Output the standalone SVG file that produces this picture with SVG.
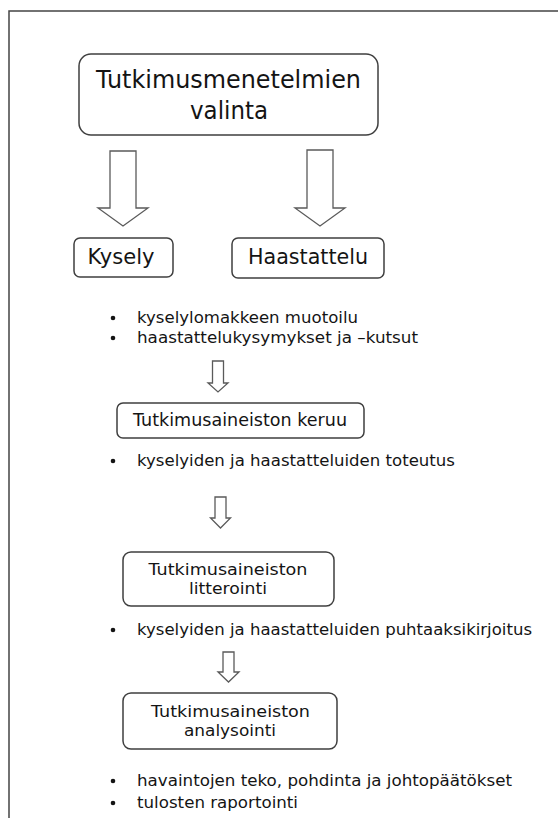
<svg xmlns="http://www.w3.org/2000/svg" width="558" height="818" viewBox="0 0 558 818">
<style>
.box{fill:#fff;stroke:#3f3f3f;stroke-width:1.5}
.arr{fill:#fff;stroke:#5a5a5a;stroke-width:1.3;stroke-linejoin:miter}
.t{font-family:"DejaVu Sans","Liberation Sans",sans-serif;fill:#141414}
.big{font-size:24px}
.mid{font-size:21px}
.box17{font-size:17px}
.box16{font-size:16px}
.bul{font-size:16.5px}
.dot{fill:#141414}
</style>
<rect x="0" y="0" width="558" height="818" fill="#fff"/>
<path d="M558,11 H9 V818" fill="none" stroke="#444" stroke-width="1.5"/>

<g id="connectors">
<path class="arr" d="M110,151 H136 V208 H148 L123,226 L98,208 H110 Z"/>
<path class="arr" d="M307,150 H333 V208 H345 L320,226 L295,208 H307 Z"/>
<path class="arr" d="M212.5,361 H223.5 V383 H228 L218,392 L208,383 H212.5 Z"/>
<path class="arr" d="M215,497 H226 V518 H230.5 L220.5,528 L210.5,518 H215 Z"/>
<path class="arr" d="M223,652 H234 V672 H239 L228.5,682 L218,672 H223 Z"/>
</g>

<g id="node-valinta">
<rect class="box" x="79" y="54" width="299" height="81" rx="12"/>
<text class="t big" x="228.5" y="88" text-anchor="middle" textLength="265" lengthAdjust="spacingAndGlyphs">Tutkimusmenetelmien</text>
<text class="t big" x="229" y="119" text-anchor="middle" textLength="78" lengthAdjust="spacingAndGlyphs">valinta</text>
</g>

<g id="node-kysely">
<rect class="box" x="74" y="238" width="99" height="39" rx="6"/>
<text class="t mid" x="121" y="264" text-anchor="middle" textLength="67" lengthAdjust="spacingAndGlyphs">Kysely</text>
</g>

<g id="node-haastattelu">
<rect class="box" x="232" y="238" width="152" height="40" rx="6"/>
<text class="t mid" x="308" y="264" text-anchor="middle" textLength="120" lengthAdjust="spacingAndGlyphs">Haastattelu</text>
</g>

<g id="bullets-1">
<circle class="dot" cx="113" cy="318" r="2.3"/>
<text class="t bul" x="137" y="323" textLength="221" lengthAdjust="spacingAndGlyphs">kyselylomakkeen muotoilu</text>
<circle class="dot" cx="113" cy="338" r="2.3"/>
<text class="t bul" x="137" y="343" textLength="281" lengthAdjust="spacingAndGlyphs">haastattelukysymykset ja –kutsut</text>
</g>

<g id="node-keruu">
<rect class="box" x="117" y="403" width="247" height="35" rx="6"/>
<text class="t box17" x="240" y="426" text-anchor="middle" textLength="214" lengthAdjust="spacingAndGlyphs">Tutkimusaineiston keruu</text>
</g>

<g id="bullets-2">
<circle class="dot" cx="113" cy="461" r="2.3"/>
<text class="t bul" x="137" y="466" textLength="318" lengthAdjust="spacingAndGlyphs">kyselyiden ja haastatteluiden toteutus</text>
</g>

<g id="node-litterointi">
<rect class="box" x="123" y="552" width="211" height="54" rx="8"/>
<text class="t box16" x="228" y="575" text-anchor="middle" textLength="159" lengthAdjust="spacingAndGlyphs">Tutkimusaineiston</text>
<text class="t box16" x="228" y="594" text-anchor="middle" textLength="78" lengthAdjust="spacingAndGlyphs">litterointi</text>
</g>

<g id="bullets-3">
<circle class="dot" cx="113" cy="630" r="2.3"/>
<text class="t bul" x="137" y="635" textLength="395" lengthAdjust="spacingAndGlyphs">kyselyiden ja haastatteluiden puhtaaksikirjoitus</text>
</g>

<g id="node-analysointi">
<rect class="box" x="123" y="693" width="214" height="56" rx="8"/>
<text class="t box16" x="230.5" y="717" text-anchor="middle" textLength="159" lengthAdjust="spacingAndGlyphs">Tutkimusaineiston</text>
<text class="t box16" x="230" y="736" text-anchor="middle" textLength="92" lengthAdjust="spacingAndGlyphs">analysointi</text>
</g>

<g id="bullets-4">
<circle class="dot" cx="113" cy="781" r="2.3"/>
<text class="t bul" x="137" y="786" textLength="375" lengthAdjust="spacingAndGlyphs">havaintojen teko, pohdinta ja johtopäätökset</text>
<circle class="dot" cx="113" cy="803" r="2.3"/>
<text class="t bul" x="137" y="808" textLength="161" lengthAdjust="spacingAndGlyphs">tulosten raportointi</text>
</g>
</svg>
